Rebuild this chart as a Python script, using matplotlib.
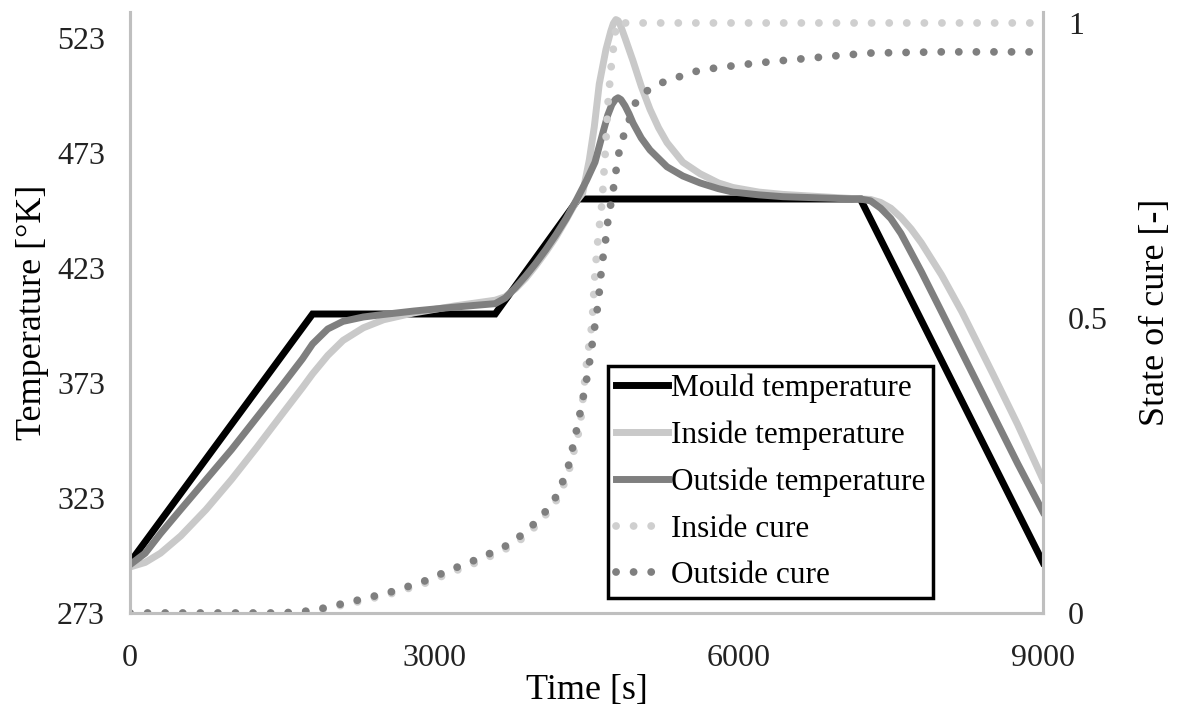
import matplotlib
matplotlib.use("Agg")
import matplotlib.pyplot as plt

plt.rcParams['font.family'] = ['Liberation Serif', 'DejaVu Serif']

# Mould temperature (K)
mould_t = [0, 1800, 3600, 4420, 7200, 9000]
mould_T = [295, 403, 403, 453, 453, 295]

# Inside temperature (K)
inside_t = [0, 150, 300, 500, 750, 1000, 1250, 1500, 1700, 1800, 1950, 2100, 2300, 2500,
            2800, 3200, 3600, 3700, 3800, 3900, 4000, 4100, 4200, 4300, 4400, 4462, 4528,
            4577, 4626, 4692, 4740, 4765, 4790, 4812, 4835, 4880, 4959, 5040, 5126, 5210,
            5294, 5450, 5619, 5800, 5944, 6200, 6437, 7000, 7200, 7300, 7400, 7500, 7600,
            7700, 7800, 8000, 8200, 8500, 8750, 9000]
inside_T = [293, 295, 299, 306.5, 318, 331, 345, 359.5, 371, 377, 385, 391.5, 397, 400.5,
            403.5, 406.5, 409, 410.5, 414, 418.5, 424, 430, 436.5, 444, 452, 455.5, 470,
            484.4, 503, 518, 526, 529.3, 531, 530.5, 528.5, 523, 513, 502, 492, 484,
            477.5, 469, 464, 460, 458, 456, 455, 453.5, 453, 452.8, 451.5, 449, 445,
            440, 434, 420, 404, 377.5, 355, 331]

# Outside temperature (K)
outside_t = [0, 150, 300, 500, 750, 1000, 1250, 1500, 1700, 1800, 1950, 2100, 2300, 2500,
             2800, 3200, 3600, 3700, 3800, 3900, 4000, 4100, 4200, 4300, 4400, 4500, 4584,
             4663, 4710, 4750, 4785, 4811, 4840, 4880, 4920, 4959, 5040, 5126, 5294, 5450,
             5619, 5800, 5944, 6200, 6437, 7000, 7200, 7300, 7400, 7500, 7600, 7800, 8000,
             8250, 8500, 8750, 9000]
outside_T = [294, 299, 307.5, 318, 331, 344, 358, 372, 383.5, 390, 396.5, 399.8, 401.7, 402.8,
             404.3, 406, 407.5, 410, 414.5, 419.5, 425, 431, 437.5, 444.5, 452.5, 461, 469,
             482, 489.5, 494, 496.3, 497, 496.2, 493.5, 490, 486, 479.5, 474.3, 467, 463,
             460, 457.5, 456, 454.8, 454, 453.2, 453, 452.2, 449, 444.5, 438, 421.5, 404,
             382, 360, 338, 317]

# Inside state of cure (-)
inside_cure_t = [0, 1500, 1800, 2000, 2300, 2600, 2900, 3155, 3450, 3720, 3900, 4070, 4200,
                 4310, 4436, 4505, 4555, 4584, 4614, 4653, 4685, 4713, 4743, 4763, 4785, 4800,
                 5000, 9000]
inside_cure = [0, 0, 0.003, 0.01, 0.021, 0.034, 0.05, 0.068, 0.088, 0.11, 0.13, 0.16, 0.19,
               0.23, 0.315, 0.43, 0.49, 0.576, 0.635, 0.695, 0.78, 0.866, 0.925, 0.954, 0.985, 1.0,
               1.0, 1.0]

# Outside state of cure (-)
outside_cure_t = [0, 1500, 1800, 2000, 2300, 2600, 2900, 3155, 3450, 3720, 3900, 4070, 4200,
                  4310, 4390, 4450, 4517, 4594, 4617, 4650, 4673, 4699, 4715, 4748, 4775, 4800,
                  4830, 4880, 4995, 5106, 5260, 5400, 5550, 5700, 6016, 6350, 6676, 7000, 7300,
                  8000, 9000]
outside_cure = [0, 0, 0.004, 0.012, 0.024, 0.037, 0.054, 0.073, 0.093, 0.115, 0.137, 0.166, 0.197,
                0.24, 0.30, 0.35, 0.41, 0.50, 0.528, 0.587, 0.615, 0.644, 0.672, 0.70, 0.73, 0.76,
                0.79, 0.816, 0.87, 0.886, 0.90, 0.908, 0.917, 0.922, 0.929, 0.935, 0.94, 0.945, 0.949,
                0.951, 0.951]

fig = plt.figure(figsize=(11.86, 7.18), dpi=100)
ax = fig.add_axes([0.1096, 0.1462, 0.7698, 0.8371])
ax2 = ax.twinx()

spine_col = '#bfbfbf'
l1, = ax.plot(mould_t, mould_T, color='black', lw=5, solid_joinstyle='miter', label='Mould temperature')
l2, = ax.plot(inside_t, inside_T, color='#c9c9c9', lw=5, label='Inside temperature')
l3, = ax.plot(outside_t, outside_T, color='#7f7f7f', lw=5, label='Outside temperature')

dots = (0, (0.01, 2.25))
l4, = ax2.plot(inside_cure_t, inside_cure, color='#cfcfcf', lw=5.6, linestyle=dots,
               dash_capstyle='round', label='Inside cure')
l5, = ax2.plot(outside_cure_t, outside_cure, color='#7f7f7f', lw=5.6, linestyle=dots,
               dash_capstyle='round', label='Outside cure')

ax.set_xlim(0, 9000)
ax.set_ylim(273, 534.3)
ax2.set_ylim(0, 1.0186)
ax.set_xticks([0, 3000, 6000, 9000])
ax.set_yticks([273, 323, 373, 423, 473, 523])
ax2.set_yticks([0, 0.5, 1])
ax2.set_yticklabels(['0', '0.5', '1'])

for a in (ax, ax2):
    a.spines['top'].set_visible(False)
    for s in ('left', 'right', 'bottom'):
        a.spines[s].set_color(spine_col)
        a.spines[s].set_linewidth(2.2)
    a.tick_params(length=0, labelsize=23, colors='#222222')
ax.tick_params(axis='x', pad=22)
ax.tick_params(axis='y', pad=18)
ax2.tick_params(axis='y', pad=18)

ax.set_xlabel('Time [s]', fontsize=26, labelpad=1)
ax.set_ylabel('Temperature [°K]', fontsize=26, labelpad=6)
ax2.set_ylabel('State of cure [-]', fontsize=26, labelpad=22)

leg = ax2.legend(handles=[l1, l2, l3, l4, l5], loc='lower right',
                 bbox_to_anchor=(0.8795, 0.025), fontsize=22.5, frameon=True,
                 fancybox=False, framealpha=1, edgecolor='black',
                 handlelength=1.65, handletextpad=0.1, labelspacing=0.56,
                 borderpad=0.25, borderaxespad=0)
leg.get_frame().set_linewidth(2.5)

fig.savefig('out.png', dpi=100)
